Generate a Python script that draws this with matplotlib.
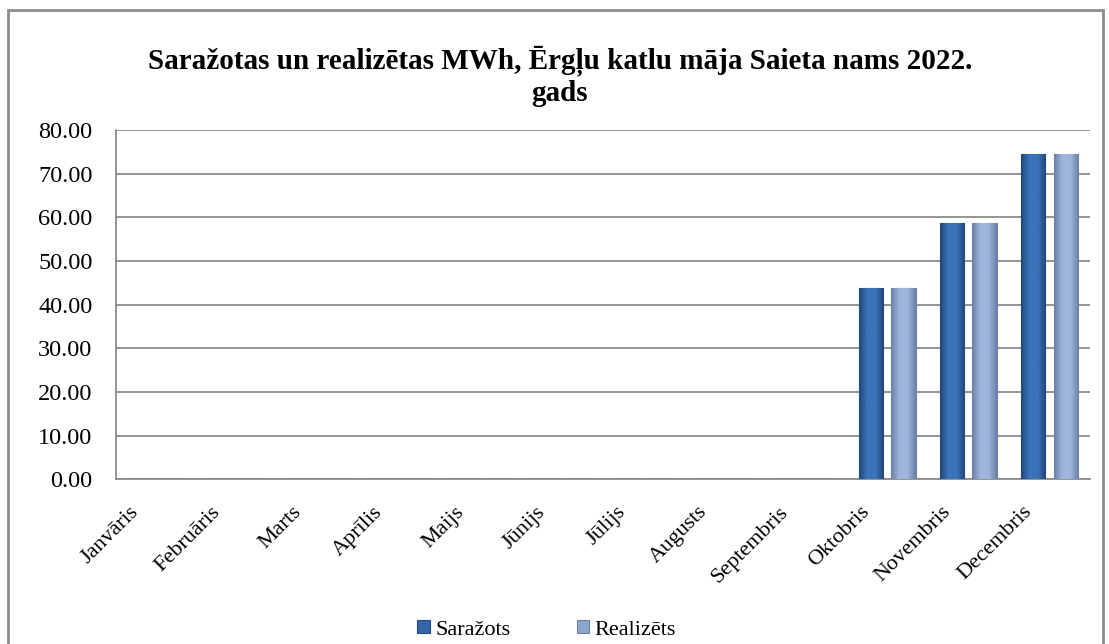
import matplotlib
matplotlib.use("Agg")
import matplotlib.pyplot as plt
import matplotlib.transforms as mtransforms
from matplotlib.patches import Rectangle
from matplotlib.colors import LinearSegmentedColormap
import numpy as np

MONTHS = ["Janvāris", "Februāris", "Marts", "Aprīlis", "Maijs", "Jūnijs",
          "Jūlijs", "Augusts", "Septembris", "Oktobris", "Novembris", "Decembris"]
SARAZOTS = [0, 0, 0, 0, 0, 0, 0, 0, 0, 43.8, 58.6, 74.5]
REALIZETS = [0, 0, 0, 0, 0, 0, 0, 0, 0, 43.8, 58.6, 74.5]
Y_TICKS = [0, 10, 20, 30, 40, 50, 60, 70, 80]

TITLE = "Saražotas un realizētas MWh, Ērgļu katlu māja Saieta nams 2022.\ngads"

plt.rcParams["font.family"] = ["Liberation Serif", "DejaVu Serif"]

fig = plt.figure(figsize=(11.09, 6.44), dpi=100)
ax = fig.add_axes([0.1046, 0.256, 0.8784, 0.542])

# outer chart frame
fig.patches.append(Rectangle((8 / 1109, -0.01), 1095 / 1109, 1 - 10 / 644 + 0.01,
                             transform=fig.transFigure, fill=False,
                             edgecolor="#8c8c8c", linewidth=2))

x = np.arange(len(MONTHS))
w = 0.30
off = 0.20
b1 = ax.bar(x - off, SARAZOTS, w, color="#3567a8", edgecolor="#24497c", linewidth=0.8,
            label="Saražots", zorder=3)
b2 = ax.bar(x + off, REALIZETS, w, color="#8ea6cf", edgecolor="#6a80a8", linewidth=0.8,
            label="Realizēts", zorder=3)


def shade(bars, edge, mid):
    cmap = LinearSegmentedColormap.from_list("s", [edge, mid, mid, edge])
    grad = np.linspace(0, 1, 64).reshape(1, -1)
    for p in bars:
        if p.get_height() <= 0:
            continue
        x0, y0 = p.get_x(), p.get_y()
        im = ax.imshow(grad, cmap=cmap, aspect="auto", zorder=3.5,
                       extent=(x0, x0 + p.get_width(), y0, y0 + p.get_height()))
        im.set_clip_path(p)


shade(b1, "#22477a", "#3b73b9")
shade(b2, "#6a80a8", "#9fb5dc")

ax.set_xlim(-0.5, len(MONTHS) - 0.5)
ax.set_ylim(0, 80)
ax.set_yticks(Y_TICKS)
ax.set_yticklabels([f"{v:.2f}" for v in Y_TICKS], fontsize=17.5)
ax.set_xticks(x)
ax.set_xticklabels(MONTHS, rotation=45, ha="right", rotation_mode="anchor", fontsize=16)
ax.tick_params(axis="x", length=0, pad=14)
ax.tick_params(axis="y", length=0, pad=17)

shift = mtransforms.ScaledTranslation(-0.27, -0.04, fig.dpi_scale_trans)
for lbl in ax.get_xticklabels():
    lbl.set_transform(lbl.get_transform() + shift)

ax.grid(axis="y", color="#8c8c8c", linewidth=1.3, zorder=0)
for side in ["top", "right"]:
    ax.spines[side].set_visible(False)
for side in ["left", "bottom"]:
    ax.spines[side].set_color("#8c8c8c")
    ax.spines[side].set_linewidth(1.3)

fig.text(0.505, 0.882, TITLE, ha="center", va="center", fontsize=21,
         fontweight="bold", linespacing=1.2)

fig.legend(handles=[b1, b2], loc="center", bbox_to_anchor=(0.493, 0.022), ncol=2,
           frameon=False, fontsize=16, handlelength=0.55, handleheight=0.55,
           handletextpad=0.25, columnspacing=3.0)

fig.savefig("out.png", dpi=100)
